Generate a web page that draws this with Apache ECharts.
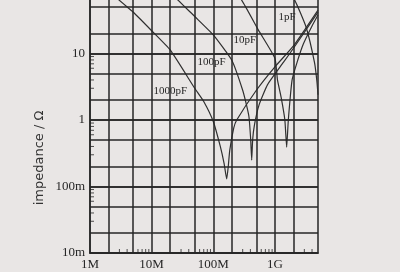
<!DOCTYPE html>
<html><head><meta charset="utf-8">
<script src="https://cdn.jsdelivr.net/npm/echarts@6/dist/echarts.min.js"></script>
<style>html,body{margin:0;padding:0;background:#e9e6e5;}#c{width:400px;height:272px;}</style>
</head><body><div id="c"></div>
<script>
// ---- data ----
const freq1000 = [2e6, 3e6, 5e6, 1e7, 2e7, 5e7, 7e7, 1e8, 1.3e8, 1.5e8, 1.65e8, 1.75e8, 1.85e8, 2.15e8, 2.4e8, 5e8, 1e9, 2e9, 5e9];
const z1000    = [95, 63, 42, 22, 11.3, 3.0, 1.9, 0.95, 0.4, 0.22, 0.13, 0.2, 0.35, 0.76, 1.0, 2.8, 6.3, 13, 45];
const freq100  = [1.7e7, 2.7e7, 5e7, 1e8, 2e8, 3e8, 3.5e8, 3.8e8, 4.05e8, 4.2e8, 4.35e8, 4.65e8, 5.55e8, 7.6e8, 1.38e9, 2e9, 5e9];
const z100     = [100, 63, 36, 19, 7.9, 2.8, 1.6, 1.1, 0.5, 0.25, 0.5, 0.84, 1.7, 3.4, 7.4, 12, 42];
const freq10   = [1.8e8, 2.9e8, 5.4e8, 1e9, 1.1e9, 1.26e9, 1.45e9, 1.55e9, 1.65e9, 1.9e9, 2.3e9, 2.9e9, 4e9, 5e9];
const z10      = [100, 63, 22.5, 8.5, 4.0, 2.2, 1.0, 0.39, 1.0, 4.0, 7.5, 14, 26, 38];
const freq1    = [1.4e9, 2.1e9, 3.2e9, 4.4e9, 4.8e9, 5e9];
const z1       = [100, 63, 25, 7.2, 3.8, 2.4];

const seriesNames = ['1000pF', '100pF', '10pF', '1pF'];
const labelAnchors = [[2e7, 2.7], [9.4e7, 7.4], [3.25e8, 16], [1.58e9, 35]];

const xTickValues = [1e6, 1e7, 1e8, 1e9];
const xTickLabels = ['1M', '10M', '100M', '1G'];
const yTickValues = [0.01, 0.1, 1, 10, 100];
const yTickLabels = ['10m', '100m', '1', '10', '100'];

const gridFreqs = [2e6, 5e6, 1e7, 2e7, 5e7, 1e8, 2e8, 5e8, 1e9, 2e9];
const gridZ = [0.02, 0.05, 0.1, 0.2, 0.5, 1, 2, 5, 10, 20, 50];
const minorFreqs = [3e6,4e6,6e6,7e6,8e6,9e6, 3e7,4e7,6e7,7e7,8e7,9e7, 3e8,4e8,6e8,7e8,8e8,9e8, 3e9,4e9];
const minorZ = [0.03,0.04,0.06,0.07,0.08,0.09, 0.3,0.4,0.6,0.7,0.8,0.9, 3,4,6,7,8,9];

// ---- chart ----
const INK = '#262626';
const serif = 'Liberation Serif';
const pairs = (xs, ys) => xs.map((x, i) => [x, ys[i]]);
const curves = [[freq1000, z1000], [freq100, z100], [freq10, z10], [freq1, z1]];

function lookup(vals, labels, v) {
  const e = Math.log10(v);
  for (let i = 0; i < vals.length; i++) if (Math.abs(Math.log10(vals[i]) - e) < 1e-6) return labels[i];
  return '';
}

const series = curves.map((c, i) => ({
  type: 'line', name: seriesNames[i], data: pairs(c[0], c[1]),
  showSymbol: false, smooth: 0.15, silent: true, clip: true,
  lineStyle: { color: '#303030', width: 1.2 },
  markPoint: {
    symbol: 'circle', symbolSize: 0, silent: true,
    label: { show: true, position: 'inside', formatter: seriesNames[i], fontFamily: serif, fontSize: 11, color: INK },
    data: [{ coord: labelAnchors[i] }]
  }
}));

series.push({
  type: 'line', data: [], silent: true,
  markLine: {
    silent: true, symbol: 'none', animation: false,
    label: { show: false },
    lineStyle: { color: INK, width: 1.5, type: 'solid' },
    data: gridFreqs.map(f => ({ xAxis: f })).concat(gridZ.map(z => ({ yAxis: z })))
  }
});
series.push({
  type: 'scatter', silent: true, clip: false,
  data: minorFreqs.map(f => [f, 0.01]),
  symbol: 'rect', symbolSize: [1, 4], symbolOffset: [0, -2],
  itemStyle: { color: INK }
});
series.push({
  type: 'scatter', silent: true, clip: false,
  data: minorZ.map(z => [1e6, z]),
  symbol: 'rect', symbolSize: [4, 1], symbolOffset: [2, 0],
  itemStyle: { color: INK }
});

const chart = echarts.init(document.getElementById('c'), null, { renderer: 'canvas' });
chart.setOption({
  animation: false,
  backgroundColor: '#e9e6e5',
  grid: { left: 90, right: 82, top: -13, bottom: 19, show: true, borderColor: INK, borderWidth: 1.5, outerBoundsMode: 'none' },
  xAxis: {
    type: 'log', logBase: 10, min: 1e6, max: 5e9,
    axisLine: { show: true, lineStyle: { color: INK, width: 1.5 } },
    axisTick: { show: false },
    splitLine: { show: false },
    axisLabel: { showMaxLabel: false, margin: 5, fontFamily: serif, fontSize: 13, color: INK,
      formatter: v => lookup(xTickValues, xTickLabels, v) }
  },
  yAxis: {
    type: 'log', logBase: 10, min: 0.01, max: 100,
    axisLine: { show: true, lineStyle: { color: INK, width: 1.5 } },
    axisTick: { show: false },
    splitLine: { show: true, lineStyle: { color: INK, width: 1.5 } },
    axisLabel: { margin: 5, fontFamily: serif, fontSize: 13, color: INK,
      formatter: v => lookup(yTickValues, yTickLabels, v) }
  },
  graphic: [{
    type: 'text', x: 40, y: 158, rotation: Math.PI / 2,
    style: { text: 'impedance / Ω', fontFamily: 'DejaVu Sans', fontSize: 13, fill: '#333', align: 'center', verticalAlign: 'middle' }
  }],
  series: series
});
</script></body></html>
